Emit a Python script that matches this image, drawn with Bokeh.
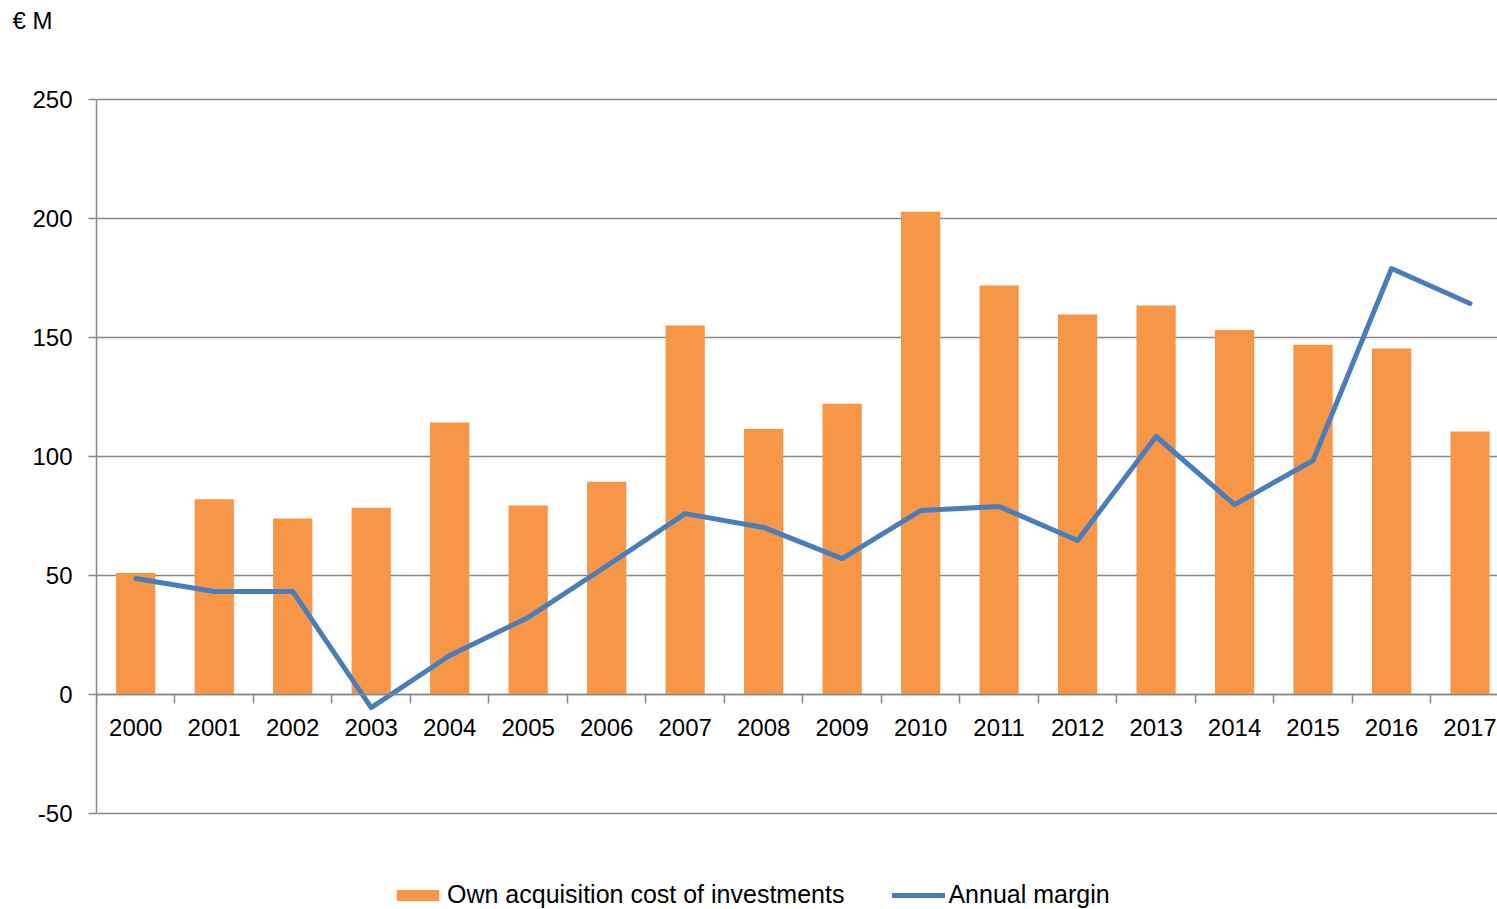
from bokeh.plotting import figure
from bokeh.models import (Range1d, LinearAxis, FixedTicker, Legend, LegendItem)
from bokeh.embed import file_html
from bokeh.resources import INLINE

years = [2000, 2001, 2002, 2003, 2004, 2005, 2006, 2007, 2008, 2009,
         2010, 2011, 2012, 2013, 2014, 2015, 2016, 2017]
acquisition_cost = [51, 82, 74, 78.5, 114.3, 79.4, 89.4, 155, 111.6, 122.2,
                    202.8, 171.8, 159.7, 163.4, 153.2, 147, 145.4, 110.5]
annual_margin = [48.7, 43.3, 43.3, -5.5, 16.4, 32.4, 54, 76, 70.2, 57.1,
                 77.3, 79, 64.7, 108.4, 79.8, 98.3, 179, 164.3]
y_ticks = [-50, 0, 50, 100, 150, 200, 250]
unit_label = "€ M"

FONT = "Liberation Sans"
GRID = "#898989"

# the chart area is cut at the right edge of the picture, as in the reference;
# the frame extends above 250 and below -50 so the unit label and legend fit
p = figure(width=1497, height=909, output_backend="svg", toolbar_location=None,
           x_range=Range1d(1999.5, 2017.35), y_range=Range1d(-50 - 40.34, 250 + 41.6),
           x_axis_location=None, min_border_left=96, min_border_right=0,
           min_border_top=0, min_border_bottom=0)
p.outline_line_color = None
p.background_fill_color = "white"
p.border_fill_color = "white"

# y axis
main_y = p.yaxis[0]
main_y.ticker = FixedTicker(ticks=y_ticks)
main_y.bounds = (-50, 250)
main_y.major_label_overrides = {-50: "-50"}
main_y.axis_line_color = GRID
main_y.axis_line_width = 1.5
main_y.major_tick_line_color = GRID
main_y.major_tick_line_width = 1.5
main_y.major_tick_out = 8
main_y.major_tick_in = 0
main_y.minor_tick_line_color = None
main_y.major_label_text_font = FONT
main_y.major_label_text_font_size = "24px"
main_y.major_label_text_color = "black"
main_y.major_label_standoff = 16

p.ygrid.ticker = FixedTicker(ticks=y_ticks)
p.ygrid.grid_line_color = GRID
p.ygrid.grid_line_width = 1.5
p.xgrid.visible = False

# unit label above the value axis (a second, label-only axis on the left)
unit_axis = LinearAxis(ticker=FixedTicker(ticks=[283]))
unit_axis.major_label_overrides = {283: unit_label}
unit_axis.axis_line_color = None
unit_axis.major_tick_line_color = None
unit_axis.minor_tick_line_color = None
unit_axis.major_tick_out = 0
unit_axis.major_tick_in = 0
unit_axis.major_label_standoff = -23
unit_axis.major_label_text_font = FONT
unit_axis.major_label_text_font_size = "24px"
unit_axis.major_label_text_color = "black"
p.add_layout(unit_axis, "left")

# bars and line
bars = p.vbar(x=years, top=acquisition_cost, bottom=0, width=0.5,
              fill_color="#F79646", line_color=None)
line = p.line(x=years, y=annual_margin, line_color="#4A7EBB", line_width=5,
              line_join="round", line_cap="round")

# x axis at zero: boundary ticks
tick_axis = LinearAxis(ticker=FixedTicker(ticks=[y - 0.5 for y in years]),
                       fixed_location=0)
tick_axis.axis_line_color = GRID
tick_axis.axis_line_width = 1.5
tick_axis.major_tick_line_color = GRID
tick_axis.major_tick_line_width = 1.5
tick_axis.major_tick_out = 9
tick_axis.major_tick_in = 0
tick_axis.minor_tick_line_color = None
tick_axis.major_label_text_color = None
tick_axis.major_label_text_font_size = "1px"
p.add_layout(tick_axis, "below")

# x axis at zero: category labels
label_axis = LinearAxis(ticker=FixedTicker(ticks=years), fixed_location=0)
label_axis.axis_line_color = None
label_axis.major_tick_line_color = None
label_axis.minor_tick_line_color = None
label_axis.major_label_overrides = {y: str(y) for y in years}
label_axis.major_label_text_font = FONT
label_axis.major_label_text_font_size = "24px"
label_axis.major_label_text_color = "black"
label_axis.major_label_standoff = 19
p.add_layout(label_axis, "below")

legend = Legend(items=[LegendItem(label="Own acquisition cost of investments", renderers=[bars]),
                       LegendItem(label="Annual margin", renderers=[line])],
                orientation="horizontal", location=(295, 0),
                label_text_font=FONT, label_text_font_size="25px",
                label_text_color="black", glyph_width=53, glyph_height=14,
                label_standoff=3, spacing=48, padding=0, margin=0,
                border_line_color=None, background_fill_alpha=0)
p.add_layout(legend, "center")

open("out.html", "w").write(file_html(p, INLINE))
